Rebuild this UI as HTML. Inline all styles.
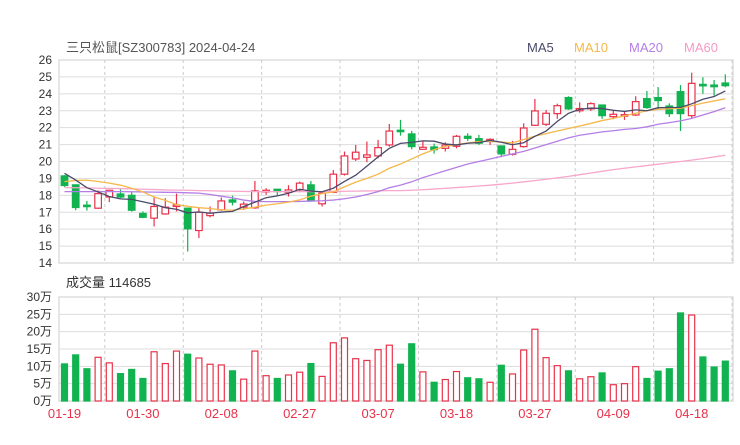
<!DOCTYPE html>
<html><head><meta charset="utf-8"><style>
body{margin:0;background:#fff;width:740px;height:440px;overflow:hidden}
svg text{font-family:"Liberation Sans","Noto Sans CJK SC",sans-serif}
</style></head><body>
<svg id="c" width="740" height="440" xmlns="http://www.w3.org/2000/svg">
<text x="66" y="52" font-size="13" fill="#555">三只松鼠[SZ300783] 2024-04-24</text>
<text x="527" y="52" font-size="13" fill="#4a4a6a">MA5</text>
<text x="574" y="52" font-size="13" fill="#f5b84a">MA10</text>
<text x="629" y="52" font-size="13" fill="#b57ee6">MA20</text>
<text x="684" y="52" font-size="13" fill="#f59ac5">MA60</text>
<text x="66" y="287" font-size="13" fill="#333">成交量 114685</text>
<g id="grid"></g><g id="marks"></g>
</svg>
<script>
const dates=["01-19","01-30","02-08","02-27","03-07","03-18","03-27","04-09","04-18"];
const priceTicks=[14,15,16,17,18,19,20,21,22,23,24,25,26];
const volTicks=[0,5,10,15,20,25,30];
const opens=[19.15,18.62,17.42,17.24,17.9,18.08,18.0,16.93,16.65,16.9,17.35,17.24,15.92,16.8,17.14,17.73,17.3,17.26,18.2,18.36,18.18,18.32,18.62,17.5,18.18,19.25,20.15,20.25,20.33,20.98,21.85,21.63,20.72,20.86,20.78,20.9,21.49,21.35,21.18,20.92,20.43,20.88,22.14,22.2,22.83,23.78,23.0,23.11,23.34,22.65,22.71,22.75,23.72,23.78,23.28,24.13,22.71,24.56,24.52,24.64];
const closes=[18.58,17.28,17.37,18.1,18.3,17.9,17.12,16.7,17.34,17.3,17.43,16.02,17.0,16.95,17.67,17.6,17.48,18.26,18.3,18.22,18.32,18.72,17.67,18.13,19.25,20.33,20.55,20.39,20.82,21.8,21.77,20.88,20.84,20.7,20.98,21.49,21.37,21.08,21.31,20.45,20.72,21.98,22.99,22.85,23.3,23.11,23.13,23.42,22.71,22.79,22.77,23.54,23.19,23.6,22.83,22.83,24.62,24.5,24.42,24.48];
const highs=[19.2,18.65,17.67,18.3,18.32,18.35,18.2,17.05,17.87,17.83,18.1,17.26,17.28,17.34,17.87,17.98,17.63,18.85,18.42,18.37,18.6,18.81,18.85,18.14,19.5,20.59,20.98,21.18,21.28,22.22,22.46,21.81,21.24,21.06,21.14,21.57,21.67,21.57,21.37,20.93,21.22,22.26,23.7,23.05,23.42,23.86,23.5,23.5,23.35,23.05,22.99,23.86,24.17,24.4,23.44,24.52,25.25,24.98,24.82,25.15];
const lows=[18.5,17.12,17.1,17.2,17.6,17.83,17.04,16.65,16.16,16.85,17.05,14.68,15.47,16.7,17.08,17.4,17.14,17.2,18.03,17.98,17.93,18.18,17.63,17.34,18.13,19.17,20.03,19.96,20.19,20.88,21.53,20.72,20.69,20.47,20.59,20.78,21.22,20.98,20.98,20.25,20.35,20.82,22.1,22.1,22.52,23.05,22.89,22.99,22.52,22.5,22.46,22.69,23.11,23.05,22.63,21.8,22.56,24.0,23.9,24.39];
const volumes=[10.7,13.3,9.3,12.6,11.0,7.9,9.1,6.5,14.2,10.8,14.4,13.5,12.4,10.6,10.4,8.7,6.3,14.4,7.3,6.5,7.5,8.3,10.8,7.1,16.8,18.2,12.2,11.7,14.8,16.1,10.6,16.5,8.4,5.4,6.2,8.5,6.7,6.4,5.4,10.3,7.8,14.7,20.7,12.5,10.2,8.7,6.4,7.0,8.1,4.7,5.0,9.9,6.5,8.6,9.3,25.4,24.8,12.7,9.8,11.5];
const ma5=[19.3,18.9,18.45,18.2,17.93,17.79,17.76,17.62,17.47,17.27,17.18,16.96,17.02,16.94,17.01,17.05,17.34,17.59,17.86,17.97,18.12,18.36,18.25,18.21,18.42,18.82,19.19,19.73,20.27,20.78,21.07,21.13,21.22,21.2,21.03,20.98,21.08,21.12,21.25,21.14,20.99,21.11,21.49,21.8,22.37,22.85,23.08,23.16,23.13,23.03,22.96,23.05,23.0,23.18,23.19,23.2,23.41,23.68,23.84,24.17];
const ma10=[18.81,18.88,18.9,18.82,18.72,18.6,18.42,18.2,17.9,17.7,17.45,17.35,17.27,17.22,17.14,17.12,17.2,17.3,17.42,17.5,17.6,17.73,17.95,18.1,18.2,18.5,18.78,19.0,19.25,19.6,19.85,20.15,20.45,20.7,20.9,21.0,21.1,21.17,21.2,21.15,21.1,21.3,21.5,21.65,21.8,21.95,22.1,22.25,22.42,22.55,22.7,22.85,23.0,23.08,23.12,23.15,23.3,23.45,23.58,23.7];
const ma20=[18.22,18.22,18.22,18.22,18.22,18.22,18.21,18.2,18.19,18.18,18.17,18.15,18.13,18.05,17.95,17.85,17.72,17.64,17.63,17.63,17.63,17.64,17.66,17.68,17.72,17.8,17.9,18.05,18.22,18.45,18.6,18.8,19.05,19.25,19.45,19.65,19.85,20.0,20.15,20.3,20.45,20.6,20.8,21.0,21.2,21.4,21.55,21.65,21.75,21.82,21.9,21.95,22.05,22.2,22.3,22.4,22.55,22.75,22.95,23.18];
const ma60=[18.46,18.45,18.44,18.42,18.41,18.4,18.38,18.36,18.34,18.32,18.31,18.3,18.28,18.27,18.25,18.24,18.23,18.22,18.22,18.22,18.22,18.22,18.22,18.22,18.23,18.24,18.25,18.26,18.27,18.28,18.28,18.3,18.33,18.37,18.41,18.46,18.5,18.55,18.6,18.66,18.72,18.8,18.87,18.95,19.03,19.12,19.22,19.32,19.42,19.52,19.6,19.68,19.76,19.84,19.92,20.0,20.08,20.17,20.27,20.37];

const NS="http://www.w3.org/2000/svg";
const RED="#e8324a",GREEN="#10b350";
const L=59,R=733,PT=60,PB=263,VT=297,VB=401;
const xAt=i=>64.5+i*11.2;
const yP=p=>PT+(26-p)*(PB-PT)/12;
const yV=v=>VB-v*(VB-VT)/30;
function mk(tag,attrs,parent){const e=document.createElementNS(NS,tag);for(const k in attrs)e.setAttribute(k,attrs[k]);parent.appendChild(e);return e;}
const grid=document.getElementById('grid'),marks=document.getElementById('marks');

// frames
let f=mk('rect',{x:L,y:PT,width:R-L,height:PB-PT,fill:'none',stroke:'#ddd','stroke-width':1.5},grid);

f=mk('rect',{x:L,y:VT,width:R-L,height:VB-VT,fill:'none',stroke:'#ddd','stroke-width':1.5},grid);

priceTicks.forEach(p=>{
  const y=yP(p);
  const ln=mk('line',{x1:L,x2:R,y1:y,y2:y,stroke:'#ddd'},grid);
  
  const t=mk('text',{x:52,y:y+4,'text-anchor':'end','font-size':12,fill:'#333'},grid);t.textContent=p;
  
});
volTicks.forEach(v=>{
  const y=yV(v);
  const ln=mk('line',{x1:L,x2:R,y1:y,y2:y,stroke:'#ddd'},grid);
  
  const t=mk('text',{x:52,y:y+4,'text-anchor':'end','font-size':12,fill:'#333'},grid);t.textContent=v+'万';
  
});
dates.forEach((d,k)=>{
  const xd=xAt(3.6+7*k);
  [[PT,PB],[VT,VB]].forEach(([a,b])=>{
    const ln=mk('line',{x1:xd,x2:xd,y1:a,y2:b,stroke:'#ccc','stroke-dasharray':'3,3'},grid);
    
  });
  const t=mk('text',{x:xAt(7*k),y:418,'text-anchor':'middle','font-size':13,fill:RED},grid);t.textContent=d;
  
});
// candles & volume
opens.forEach((o,i)=>{
  const c=closes[i],up=c>=o,col=up?RED:GREEN,x=xAt(i);
  const g=mk('g',{},marks);
  
  mk('line',{x1:x,x2:x,y1:yP(highs[i]),y2:yP(lows[i]),stroke:col,'stroke-width':1.2},g);
  const top=yP(Math.max(o,c)),h=Math.max(1.5,Math.abs(yP(o)-yP(c)));
  mk('rect',{x:x-3.3,y:top,width:6.6,height:h,fill:up?'#fff':col,stroke:col,'stroke-width':1.2},g);
  const vb=mk('rect',{x:x-3,y:yV(volumes[i]),width:6,height:VB-yV(volumes[i]),fill:up?'#fff':col,stroke:col,'stroke-width':1.2},marks);
  
});
[[ma60,'#f7a6cc','ma60-line'],[ma20,'#b57ee6','ma20-line'],[ma10,'#f5b84a','ma10-line'],[ma5,'#4a4a6a','ma5-line']].forEach(([arr,col,name])=>{
  const pl=mk('polyline',{points:arr.map((v,i)=>xAt(i)+','+yP(v)).join(' '),fill:'none',stroke:col,'stroke-width':1.3},marks);
  
});
</script>
</body></html>
